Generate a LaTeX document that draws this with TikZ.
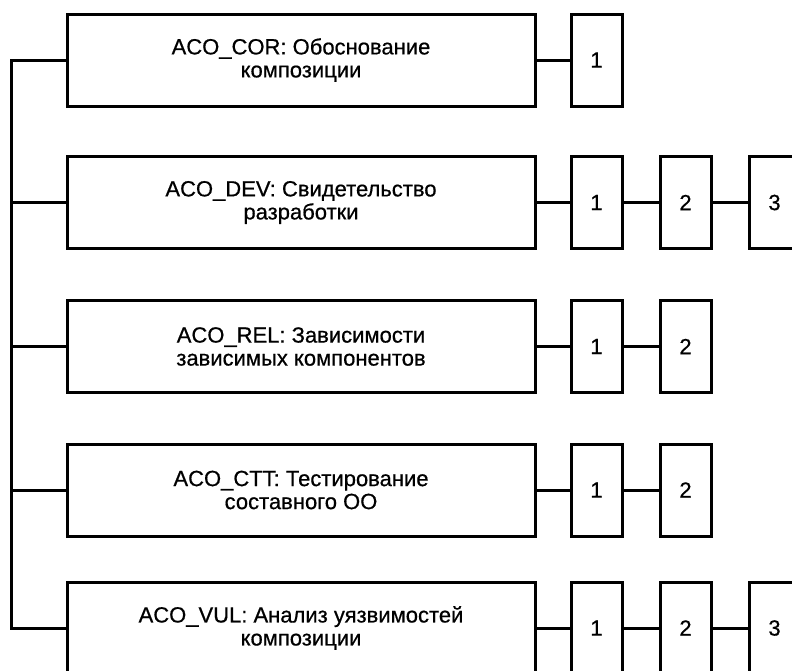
\documentclass[tikz,border=0pt]{standalone}
\usepackage{fontspec}
\setmainfont[FakeBold=0.6]{Liberation Sans}
\begin{document}
\begin{tikzpicture}[x=1pt,y=-1pt,
  line width=3pt,
  bigbox/.style={draw, line width=3pt, minimum width=468pt, minimum height=92pt, inner sep=0pt, align=center, font=\fontsize{22}{23}\selectfont},
  smallbox/.style={draw, line width=3pt, minimum width=51pt, minimum height=92pt, inner sep=0pt, font=\fontsize{22}{23}\selectfont}
]
\clip (0,0) rectangle (792,670);
\fill[white] (0,0) rectangle (792,670);
% big boxes
\node[bigbox] (b1) at (301,60) {ACO\_COR: Обоснование\\композиции};
\node[bigbox] (b2) at (301,202.5) {ACO\_DEV: Свидетельство\\разработки};
\node[bigbox] (b3) at (301,346.5) {ACO\_REL: Зависимости\\зависимых компонентов};
\node[bigbox] (b4) at (301,490) {ACO\_CTT: Тестирование\\составного ОО};
\node[bigbox] (b5) at (301,628) {ACO\_VUL: Анализ уязвимостей\\композиции};
% small boxes
\node[smallbox] (b1a) at (596.5,60) {1};
\node[smallbox] (b2a) at (596.5,202.5) {1};
\node[smallbox] (b2b) at (685.5,202.5) {2};
\node[smallbox] (b2c) at (774.5,202.5) {3};
\node[smallbox] (b3a) at (596.5,346.5) {1};
\node[smallbox] (b3b) at (685.5,346.5) {2};
\node[smallbox] (b4a) at (596.5,490) {1};
\node[smallbox] (b4b) at (685.5,490) {2};
\node[smallbox] (b5a) at (596.5,628) {1};
\node[smallbox] (b5b) at (685.5,628) {2};
\node[smallbox] (b5c) at (774.5,628) {3};
% spine
\coordinate (sp) at (11.5,60);
\draw (b1.west) -- (sp) |- (b5.west);
\draw (b2.west) -- (b2.west -| sp);
\draw (b3.west) -- (b3.west -| sp);
\draw (b4.west) -- (b4.west -| sp);
% chains
\draw (b1.east) -- (b1a.west);
\draw (b2.east) -- (b2a.west);
\draw (b2a.east) -- (b2b.west);
\draw (b2b.east) -- (b2c.west);
\draw (b3.east) -- (b3a.west);
\draw (b3a.east) -- (b3b.west);
\draw (b4.east) -- (b4a.west);
\draw (b4a.east) -- (b4b.west);
\draw (b5.east) -- (b5a.west);
\draw (b5a.east) -- (b5b.west);
\draw (b5b.east) -- (b5c.west);
\end{tikzpicture}
\end{document}
